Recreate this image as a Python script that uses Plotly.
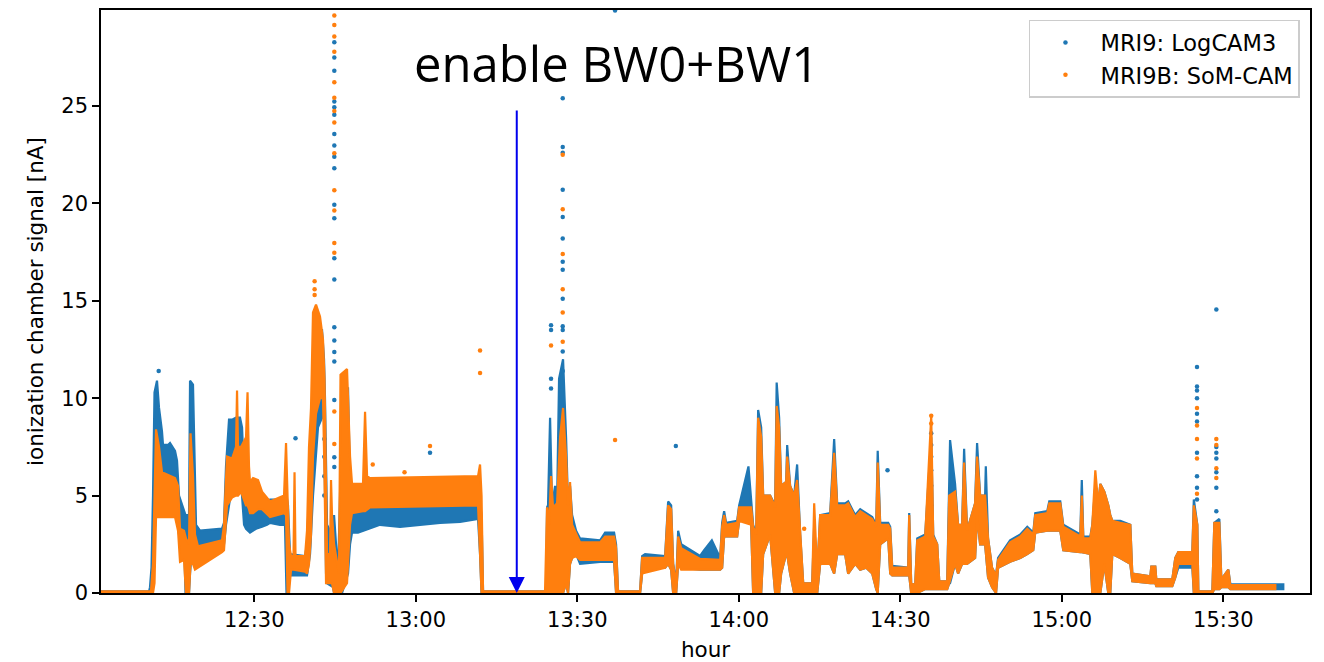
import pandas as pd
import plotly.graph_objects as go

# ---------------- data (time in minutes after 12:00, values in nA) ----------------
BASE = pd.Timestamp("2024-01-01 12:00:00")

# MRI9: LogCAM3 -- dense point band read as (time, lower edge, upper edge)
mri9_band = [
    (1.0, 0, 0.08), (10.44, 0, 0.08), (10.62, 0, 0.3), (10.90, 0, 1.3), (11.18, 0.5, 5.0),
    (11.46, 3.0, 10.3), (11.92, 5.0, 10.9), (12.30, 5.0, 9.5), (12.85, 4.5, 8.3), (13.04, 4.0, 7.6),
    (13.97, 4.0, 7.6), (14.34, 4.0, 7.7), (15.27, 4.0, 7.3), (15.64, 3.8, 6.8), (16.01, 3.0, 5.0),
    (16.94, 2.8, 4.2), (17.22, 0, 4.0), (17.87, 0, 4.0), (18.06, 1.0, 10.9), (18.61, 3.0, 10.7),
    (18.89, 3.0, 6.0), (19.17, 2.2, 3.5), (19.91, 1.8, 3.2), (24.00, 2.2, 3.3), (24.37, 2.5, 3.6),
    (24.74, 3.5, 6.5), (25.30, 4.5, 8.9), (25.86, 5.5, 8.9), (26.60, 5.5, 9.0), (27.34, 5.8, 9.0),
    (27.72, 5.0, 8.5), (28.09, 3.5, 6.0), (28.46, 3.3, 5.0), (29.20, 3.1, 4.4), (30.32, 3.3, 4.4),
    (31.43, 3.4, 4.6), (32.36, 3.5, 4.7), (32.92, 3.6, 4.8), (34.77, 3.5, 4.8), (35.70, 3.5, 5.0),
    (35.98, 0, 5.0), (36.26, 0, 4.5), (36.63, 0.9, 2.0), (39.42, 0.9, 1.9), (39.79, 0.9, 2.5),
    (40.35, 2.0, 7.0), (40.72, 4.0, 9.0), (40.90, 5.0, 12.0), (41.83, 8.5, 13.5), (42.58, 9.0, 13.5),
    (42.95, 9.0, 12.0), (43.13, 6.0, 10.0), (43.32, 1.0, 6.0), (43.51, 0.5, 3.5), (44.06, 0.4, 3.2),
    (44.62, 0.3, 3.5), (44.81, 0, 4.0), (45.55, 0, 1.0), (45.92, 0, 5.0), (46.29, 0, 10.5),
    (47.41, 1.0, 10.5), (47.78, 2.5, 5.5), (48.15, 3.1, 5.0), (49.26, 3.1, 4.5), (50.01, 3.2, 4.4),
    (51.12, 3.3, 4.5), (53.35, 3.5, 4.4), (57.07, 3.4, 4.5), (60.78, 3.5, 4.5), (64.50, 3.6, 4.5),
    (68.22, 3.65, 4.6), (71.56, 3.8, 4.6), (71.93, 2.0, 4.6), (72.21, 0, 4.0), (72.49, 0, 0.08),
    (84.00, 0, 0.08), (84.19, 0, 0.2), (84.38, 0, 4.4), (84.56, 0, 4.5), (84.94, 0, 9.0),
    (85.31, 0, 4.5), (85.87, 0, 5.5), (86.24, 0, 4.6), (86.61, 0, 11.0), (87.35, 0, 12.0),
    (87.91, 0.5, 8.0), (88.28, 0, 4.5), (88.65, 1.5, 5.5), (89.03, 1.8, 4.0), (89.77, 2.0, 3.2),
    (90.51, 1.5, 2.8), (94.23, 1.6, 2.7), (95.16, 1.6, 3.1), (96.83, 1.6, 3.1), (97.20, 0, 2.5),
    (97.57, 0, 0.08), (101.66, 0, 0.08), (102.04, 1.0, 1.9), (102.59, 1.3, 2.0), (106.31, 1.3, 1.9),
    (106.87, 1.5, 4.7), (107.43, 1.2, 4.5), (107.80, 0, 1.5), (108.36, 0, 0.5), (108.73, 1.5, 3.2),
    (109.29, 1.3, 2.5), (112.81, 1.2, 1.9), (113.56, 1.2, 2.2), (114.99, 1.2, 2.7), (116.53, 1.2, 1.8),
    (116.90, 1.3, 3.6), (117.27, 2.9, 4.2), (117.64, 2.9, 3.6), (119.69, 2.9, 3.7), (120.06, 3.7, 4.5),
    (121.79, 3.7, 6.5), (122.29, 3.5, 4.5), (122.66, 0, 3.5), (123.22, 0, 3.0), (123.59, 0, 9.4),
    (124.15, 0, 8.5), (124.52, 2.0, 5.0), (125.82, 3.0, 5.0), (126.75, 0, 4.5), (127.03, 0, 10.8),
    (127.49, 0, 9.0), (127.86, 1.0, 5.5), (128.79, 2.0, 5.7), (128.98, 2.0, 7.6), (129.53, 1.0, 5.5),
    (130.28, 0, 5.0), (130.83, 0, 6.6), (131.40, 0, 3.0), (131.96, 0, 0.5), (133.63, 0, 0.5),
    (134.00, 0, 3.5), (134.56, 0, 1.0), (135.11, 1.5, 4.0), (136.97, 1.5, 4.1), (137.71, 1.0, 7.9),
    (138.27, 2.0, 4.6), (139.75, 2.0, 4.6), (140.31, 1.0, 4.7), (141.61, 1.5, 4.0), (142.55, 1.2, 4.3),
    (143.66, 1.3, 4.1), (144.78, 1.0, 3.9), (145.52, 0.2, 3.5), (145.80, 0, 7.3), (146.26, 2.5, 3.6),
    (147.75, 2.8, 3.6), (148.12, 1.0, 3.4), (148.49, 0.9, 1.4), (151.46, 0.9, 1.3), (151.65, 0.9, 4.1),
    (152.02, 0, 0.5), (152.76, 0, 0.4), (153.14, 0, 2.8), (154.62, 0.2, 3.0), (155.74, 0.2, 8.0),
    (156.11, 0.2, 3.0), (156.85, 0.2, 2.5), (157.23, 0.2, 0.6), (158.71, 0.2, 0.6), (159.08, 0.5, 5.2),
    (159.24, 0.5, 7.85), (160.17, 1.5, 5.6), (160.73, 1.0, 3.5), (161.48, 1.5, 3.5), (161.85, 1.5, 7.4),
    (162.40, 1.5, 3.2), (163.89, 1.8, 4.6), (164.26, 4.0, 7.7), (164.82, 2.5, 5.0), (165.75, 2.5, 5.0),
    (165.88, 2.5, 6.5), (166.30, 0.8, 2.8), (167.04, 0.3, 1.3), (167.78, 0, 0.9), (168.16, 1.3, 1.8),
    (170.39, 1.6, 2.7), (172.28, 1.8, 3.0), (173.58, 2.0, 3.4), (174.69, 2.2, 3.1), (175.06, 3.1, 4.1),
    (177.29, 3.2, 4.2), (177.67, 3.2, 4.7), (179.71, 3.2, 4.7), (180.27, 2.2, 3.5), (183.43, 2.1, 3.0),
    (183.71, 2.1, 5.8), (183.99, 2.1, 2.9), (185.29, 2.0, 2.9), (185.66, 0, 3.5), (186.22, 0, 5.5),
    (186.78, 0, 4.5), (187.15, 0, 5.6), (187.89, 1.5, 5.2), (188.63, 0, 4.5), (189.00, 0, 4.0),
    (189.38, 2.0, 3.7), (190.86, 1.8, 3.7), (192.72, 1.5, 3.5), (193.09, 0.6, 1.0), (196.44, 0.5, 0.85),
    (196.62, 0.5, 1.35), (197.36, 0.5, 1.35), (197.55, 0.35, 0.7), (200.52, 0.35, 0.7), (201.08, 0.8, 1.8),
    (201.64, 1.3, 2.1), (204.24, 1.3, 2.1), (204.52, 0, 4.8), (205.17, 0, 3.5), (205.36, 0, 0.08),
    (207.96, 0, 0.08), (208.33, 0.2, 3.6), (209.26, 0.2, 3.8), (209.63, 0.3, 0.7), (210.93, 0.3, 1.2),
    (211.30, 0.2, 0.45), (221.14, 0.2, 0.45),
]

# MRI9B: SoM-CAM -- dense point band read as (time, lower edge, upper edge)
mri9b_band = [
    (1.0, 0, 0.08), (10.80, 0, 0.08), (11.18, 0, 1.5), (11.46, 0.5, 5.5), (11.74, 3.9, 8.4),
    (12.30, 3.9, 7.5), (12.85, 3.9, 6.2), (15.27, 3.9, 5.9), (15.83, 3.2, 5.5), (16.20, 1.6, 3.3),
    (16.94, 1.7, 3.2), (17.31, 0, 2.8), (17.87, 0, 2.5), (18.15, 1.5, 8.2), (18.61, 1.5, 6.0),
    (18.98, 1.2, 3.0), (19.54, 1.3, 2.4), (24.00, 2.1, 2.7), (24.37, 2.2, 3.5), (24.93, 4.5, 7.0),
    (25.86, 4.9, 6.9), (26.60, 5.0, 7.5), (26.79, 5.0, 10.4), (26.97, 5.0, 7.5), (27.53, 5.2, 7.5),
    (28.46, 4.5, 8.0), (28.74, 4.5, 10.3), (29.01, 4.3, 6.5), (29.20, 4.1, 5.7), (29.76, 4.1, 5.9),
    (30.69, 4.3, 5.8), (31.43, 4.3, 5.2), (32.92, 3.9, 4.7), (35.52, 4.1, 5.0), (35.89, 4.0, 7.7),
    (36.17, 0, 5.0), (36.45, 0, 2.5), (36.82, 1.2, 1.9), (37.28, 1.2, 1.9), (37.47, 1.2, 6.2),
    (37.65, 1.2, 1.9), (39.42, 1.1, 1.9), (39.79, 1.0, 3.2), (40.16, 1.5, 7.5), (40.53, 3.0, 9.5),
    (40.90, 7.0, 14.4), (41.46, 9.2, 14.8), (42.20, 10.0, 14.2), (42.76, 10.0, 13.0), (43.04, 6.0, 11.0),
    (43.32, 0.5, 5.5), (43.51, 0.5, 2.0), (44.06, 0.5, 2.0), (44.25, 0.5, 5.8), (44.43, 0.5, 4.0),
    (44.81, 0, 2.5), (45.73, 0, 1.0), (46.01, 0, 11.2), (47.22, 0.5, 11.5), (47.78, 3.5, 7.0),
    (48.15, 4.1, 5.6), (50.19, 4.2, 5.6), (50.57, 4.2, 9.3), (50.94, 4.3, 6.0), (51.49, 4.4, 5.9),
    (71.56, 4.5, 6.0), (71.93, 2.0, 6.6), (72.21, 0, 5.0), (72.49, 0, 0.08), (84.00, 0, 0.08),
    (84.38, 0, 4.4), (84.75, 0, 3.5), (85.12, 0, 6.0), (85.49, 0, 4.4), (86.24, 0, 4.6),
    (86.80, 0, 8.0), (87.35, 0, 9.5), (87.91, 0.5, 7.0), (88.28, 0, 4.5), (88.65, 1.5, 5.7),
    (89.03, 1.8, 3.5), (89.77, 1.9, 3.0), (90.51, 1.7, 2.6), (94.23, 1.7, 2.6), (95.16, 1.7, 2.9),
    (96.83, 1.7, 2.9), (97.20, 0, 2.3), (97.57, 0, 0.08), (101.66, 0, 0.08), (102.04, 1.0, 1.8),
    (106.31, 1.3, 1.8), (106.87, 1.5, 4.5), (107.43, 1.2, 4.3), (107.80, 0, 1.5), (108.36, 0, 0.4),
    (108.73, 1.5, 2.9), (109.29, 1.2, 2.3), (112.81, 1.2, 1.75), (116.53, 1.2, 1.7), (116.90, 1.3, 3.4),
    (117.27, 2.9, 4.0), (117.64, 2.9, 3.5), (119.69, 2.9, 3.6), (120.06, 3.7, 4.4), (122.29, 3.5, 4.4),
    (122.66, 0, 3.4), (123.22, 0, 3.0), (123.59, 0, 9.0), (124.15, 0, 8.0), (124.52, 2.0, 5.0),
    (125.82, 3.0, 5.0), (126.75, 0, 4.4), (127.03, 0, 9.6), (127.49, 0, 8.5), (127.86, 1.0, 5.5),
    (128.79, 2.0, 5.7), (128.98, 2.0, 7.0), (129.53, 1.0, 5.5), (130.28, 0, 5.0), (130.83, 0, 5.8),
    (131.40, 0, 3.0), (131.96, 0, 0.5), (133.63, 0, 0.5), (134.00, 0, 4.6), (134.56, 0, 1.0),
    (135.11, 1.5, 4.0), (136.97, 1.5, 4.0), (137.71, 1.0, 7.2), (138.27, 2.0, 4.5), (139.75, 2.0, 4.5),
    (140.31, 1.0, 4.6), (141.61, 1.5, 3.9), (142.55, 1.2, 4.2), (143.66, 1.3, 4.0), (144.78, 1.0, 3.8),
    (145.52, 0.2, 3.4), (145.80, 0, 6.7), (146.26, 2.5, 3.5), (147.75, 2.8, 3.5), (148.12, 1.0, 3.3),
    (148.49, 0.9, 1.3), (151.46, 0.9, 1.3), (151.65, 0.9, 4.0), (152.02, 0, 0.5), (152.76, 0, 0.4),
    (153.14, 0, 2.7), (154.62, 0.2, 2.9), (155.74, 0.2, 9.1), (156.11, 0.2, 2.9), (156.85, 0.2, 2.5),
    (157.23, 0.2, 0.6), (158.71, 0.2, 0.6), (159.08, 0.5, 5.0), (160.17, 1.5, 5.2), (160.73, 1.0, 3.5),
    (161.48, 1.5, 3.5), (161.85, 1.5, 6.7), (162.40, 1.5, 3.2), (163.89, 1.8, 4.6), (164.26, 4.0, 7.0),
    (164.82, 2.5, 5.0), (165.75, 2.5, 5.0), (166.30, 0.8, 2.8), (167.04, 0.3, 1.3), (167.78, 0, 0.9),
    (168.16, 1.3, 1.7), (170.39, 1.6, 2.6), (172.28, 1.8, 2.9), (173.58, 2.0, 3.3), (174.69, 2.2, 3.0),
    (175.06, 3.1, 4.0), (177.29, 3.2, 4.1), (177.67, 3.2, 4.6), (179.71, 3.2, 4.6), (180.27, 2.2, 3.4),
    (183.43, 2.1, 2.9), (183.71, 2.1, 5.0), (183.99, 2.1, 2.8), (185.29, 2.0, 2.8), (185.66, 0, 3.5),
    (186.22, 0, 6.3), (186.78, 0, 4.5), (187.15, 0, 5.6), (187.89, 1.5, 5.2), (188.63, 0, 4.5),
    (189.00, 0, 4.0), (189.38, 2.0, 3.7), (190.86, 1.8, 3.6), (192.72, 1.5, 3.5), (193.09, 0.6, 1.0),
    (196.44, 0.5, 0.85), (196.62, 0.5, 1.35), (197.36, 0.5, 1.35), (197.55, 0.35, 0.7), (200.52, 0.35, 0.7),
    (201.08, 0.8, 1.8), (201.64, 1.5, 2.1), (204.24, 1.5, 2.1), (204.52, 0, 4.5), (205.17, 0, 3.5),
    (205.36, 0, 0.08), (207.96, 0, 0.08), (208.33, 0.2, 3.6), (209.26, 0.2, 3.6), (209.63, 0.3, 0.7),
    (210.93, 0.3, 1.2), (211.30, 0.2, 0.4), (219.66, 0.2, 0.4),
]

# isolated readings (time, value)
mri9_dots = [
    (12.24, 11.4), (37.65, 7.94), (43.0, 7.9), (43.0, 7.0), (43.0, 6.0), (43.0, 5.0),
    (44.86, 28.28), (44.86, 27.49), (44.86, 26.81), (44.86, 25.23), (44.86, 24.94), (44.86, 24.55),
    (44.86, 23.56), (44.86, 22.97), (44.86, 22.39), (44.86, 21.80), (44.86, 19.93), (44.86, 19.24),
    (44.86, 17.18), (44.86, 16.10), (44.86, 13.64), (44.86, 12.96), (44.86, 12.37), (44.86, 11.88),
    (44.86, 9.91), (44.86, 6.97), (44.86, 6.47), (62.64, 7.2),
    (85.12, 13.75), (85.12, 13.5), (85.12, 11.0), (85.12, 10.5),
    (87.29, 25.4), (87.29, 22.9), (87.29, 22.6), (87.29, 20.7), (87.29, 19.3), (87.29, 18.2),
    (87.29, 17.0), (87.29, 16.6), (87.29, 15.1), (87.29, 13.7), (87.29, 13.5), (87.29, 12.4), (87.29, 11.4),
    (97.01, 29.9), (108.30, 7.55), (147.62, 6.3),
    (155.74, 8.2), (155.74, 7.6), (155.74, 7.0), (155.74, 6.3), (155.74, 5.5), (155.74, 4.5),
    (205.11, 11.6), (205.11, 10.6), (205.11, 10.4), (205.11, 10.0), (205.11, 9.2), (205.11, 8.8),
    (205.11, 7.2), (205.11, 6.0), (205.11, 5.4), (205.11, 4.8),
    (208.70, 14.56), (208.70, 7.5), (208.70, 7.2), (208.70, 6.9), (208.70, 6.2), (208.70, 5.4), (208.70, 4.2),
]
mri9b_dots = [
    (41.2, 16.0), (41.2, 15.6), (41.2, 15.3),
    (44.86, 29.65), (44.86, 29.16), (44.86, 28.57), (44.86, 27.79), (44.86, 26.22), (44.86, 25.43),
    (44.86, 24.74), (44.86, 24.15), (44.86, 22.58), (44.86, 20.68), (44.86, 19.64), (44.86, 17.97),
    (44.86, 17.47), (44.86, 9.32), (44.86, 7.65),
    (52.0, 6.6), (57.9, 6.2), (62.64, 7.55), (71.93, 12.45), (71.93, 11.3),
    (85.12, 12.7), (87.29, 22.5), (87.29, 19.7), (87.29, 17.4), (87.29, 15.6), (87.29, 14.4), (87.29, 12.9),
    (97.01, 7.85), (132.14, 3.3), (155.74, 9.1), (155.74, 8.7),
    (205.11, 9.5), (205.11, 8.6), (205.11, 7.9), (205.11, 6.9), (205.11, 5.1),
    (208.70, 7.9), (208.70, 7.6), (208.70, 6.4), (208.70, 5.9),
]

series_names = ["MRI9: LogCAM3", "MRI9B: SoM-CAM"]
series_colors = ["#1f77b4", "#ff7f0e"]
x_range_min = [1.52, 226.1]
y_range = [0, 29.93]
y_ticks = [0, 5, 10, 15, 20, 25]
arrow_time, arrow_top = 78.75, 24.85
label_time, label_value = 97.2, 27.2
label_text = "enable BW0+BW1"


def to_time(minutes):
    return list(BASE + pd.to_timedelta(minutes, unit="min"))


fig = go.Figure()
for band, dots, name, color in [
    (mri9_band, mri9_dots, series_names[0], series_colors[0]),
    (mri9b_band, mri9b_dots, series_names[1], series_colors[1]),
]:
    t = [b[0] for b in band]
    lo = [b[1] for b in band]
    hi = [b[2] for b in band]
    fig.add_trace(go.Scatter(
        x=to_time(t + t[::-1]), y=hi + lo[::-1], mode="lines", fill="toself",
        fillcolor=color, line=dict(color=color, width=2.2), showlegend=False, hoverinfo="skip",
    ))
    fig.add_trace(go.Scatter(
        x=to_time([d[0] for d in dots]), y=[d[1] for d in dots], mode="markers", name=name,
        marker=dict(color=color, size=4.5),
    ))

fig.add_annotation(
    x=to_time([arrow_time])[0], y=0, ax=to_time([arrow_time])[0], ay=arrow_top,
    xref="x", yref="y", axref="x", ayref="y", text="", showarrow=True,
    arrowhead=2, arrowsize=1.6, arrowwidth=2, arrowcolor="#0000ee", standoff=0,
)
fig.add_annotation(
    x=to_time([label_time])[0], y=label_value, xref="x", yref="y", text=label_text,
    showarrow=False, xanchor="center", yanchor="middle",
    font=dict(family="Open Sans", size=49, color="black"),
)

axis_common = dict(
    showline=True, mirror=True, linecolor="black", linewidth=1.5, ticks="outside",
    ticklen=7, tickwidth=1.5, tickcolor="black", showgrid=False, zeroline=False,
    automargin=False, tickfont=dict(family="DejaVu Sans", size=21, color="black"),
)
fig.update_layout(
    width=1324, height=662, margin=dict(l=101, r=14, t=10, b=69),
    plot_bgcolor="white", paper_bgcolor="white",
    font=dict(family="DejaVu Sans", size=21, color="black"),
    xaxis=dict(
        type="date", range=to_time(x_range_min), tickformat="%H:%M", dtick=1800000,
        tick0=to_time([30])[0], title=dict(text="hour", standoff=14,
                                           font=dict(family="DejaVu Sans", size=21.5)),
        **axis_common,
    ),
    yaxis=dict(
        range=y_range, tickvals=y_ticks, title=dict(text="ionization chamber signal [nA]", standoff=12,
                                                   font=dict(family="DejaVu Sans", size=21.5)),
        **axis_common,
    ),
    legend=dict(
        x=0.9917, y=0.983, xanchor="right", yanchor="top", bordercolor="#cccccc", borderwidth=1.5,
        bgcolor="rgba(255,255,255,0.8)", font=dict(family="DejaVu Sans", size=22.5),
        tracegroupgap=0, itemwidth=60,
    ),
)

fig.write_html("out.html")
